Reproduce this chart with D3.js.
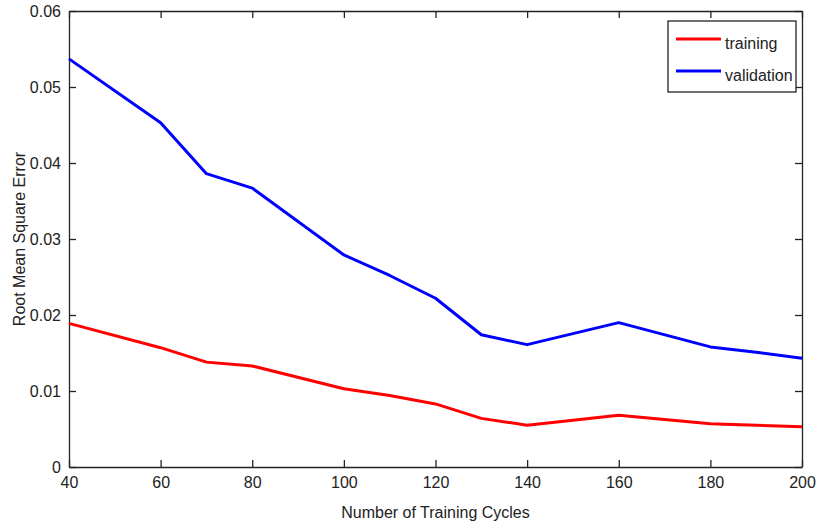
<!DOCTYPE html>
<html>
<head>
<meta charset="utf-8">
<script src="https://cdn.jsdelivr.net/npm/d3@7"></script>
<style>
  body { margin: 0; background: #fff; }
  text { font-family: "Liberation Sans Narrow", "Arial Narrow", "Liberation Sans", sans-serif; fill: #222; }
</style>
</head>
<body>
<div id="chart"></div>
<script>
var cycles = [40, 60, 70, 80, 100, 110, 120, 130, 140, 160, 180, 190, 200];
var training = [0.0189, 0.0157, 0.0138, 0.0133, 0.0103, 0.0094, 0.0083, 0.0064, 0.0055, 0.0068, 0.0057, 0.0055, 0.0053];
var validation = [0.0537, 0.0453, 0.0386, 0.0367, 0.0279, 0.0252, 0.0222, 0.0174, 0.0161, 0.0190, 0.0158, 0.0151, 0.0143];
var xTicks = [40, 60, 80, 100, 120, 140, 160, 180, 200];
var yTicks = [0, 0.01, 0.02, 0.03, 0.04, 0.05, 0.06];
var seriesNames = ["training", "validation"];
var seriesColors = ["#ff0000", "#0000ff"];

var width = 816, height = 527;
var margin = {left: 69, right: 14, top: 11, bottom: 60};

var svg = d3.select("#chart").append("svg")
  .attr("width", width).attr("height", height);

var x = d3.scaleLinear().domain([40, 200]).range([margin.left, width - margin.right]);
var y = d3.scaleLinear().domain([0, 0.06]).range([height - margin.bottom, margin.top]);

var fmtY = function(d) { return d === 0 ? "0" : d3.format(".2f")(d); };

// axes, ticks point inward like matlab
var xAxis = svg.append("g")
  .attr("transform", "translate(0," + y(0) + ")")
  .call(d3.axisBottom(x).tickValues(xTicks).tickSizeInner(-7).tickSizeOuter(0).tickPadding(14));
var xTop = svg.append("g")
  .attr("transform", "translate(0," + y(0.06) + ")")
  .call(d3.axisTop(x).tickValues(xTicks).tickSizeInner(-7).tickSizeOuter(0).tickFormat(""));
var yAxis = svg.append("g")
  .attr("transform", "translate(" + x(40) + ",0)")
  .call(d3.axisLeft(y).tickValues(yTicks).tickFormat(fmtY).tickSizeInner(-7).tickSizeOuter(0).tickPadding(8));
var yRight = svg.append("g")
  .attr("transform", "translate(" + x(200) + ",0)")
  .call(d3.axisRight(y).tickValues(yTicks).tickSizeInner(-7).tickSizeOuter(0).tickFormat(""));

[xAxis, xTop, yAxis, yRight].forEach(function(g) {
  g.selectAll("path, line").attr("stroke", "#222").attr("stroke-width", 1.3);
  g.selectAll("text").style("font-size", "16px").attr("fill", "#222");
});
xAxis.selectAll(".tick text").attr("dy", "0.45em");
yAxis.selectAll(".tick text").attr("dy", "0.35em");

var line = d3.line()
  .x(function(d, i) { return x(cycles[i]); })
  .y(function(d) { return y(d); });

[training, validation].forEach(function(s, k) {
  svg.append("path")
    .datum(s)
    .attr("fill", "none")
    .attr("stroke", seriesColors[k])
    .attr("stroke-width", 3)
    .attr("stroke-linejoin", "round")
    .attr("d", line);
});

// legend
var lg = svg.append("g").attr("transform", "translate(668,21)");
lg.append("rect")
  .attr("width", 128).attr("height", 71)
  .attr("fill", "#fff").attr("stroke", "#222").attr("stroke-width", 1.3);
seriesNames.forEach(function(name, k) {
  var ly = 18 + k * 32;
  lg.append("line")
    .attr("x1", 8).attr("x2", 53).attr("y1", ly).attr("y2", ly)
    .attr("stroke", seriesColors[k]).attr("stroke-width", 3);
  lg.append("text")
    .attr("x", 57).attr("y", ly + 4).attr("dy", "0.35em")
    .style("font-size", "16px")
    .text(name);
});

// axis titles
svg.append("text")
  .attr("x", (x(40) + x(200)) / 2).attr("y", 518)
  .attr("text-anchor", "middle")
  .style("font-size", "16px")
  .text("Number of Training Cycles");

svg.append("text")
  .attr("transform", "translate(25," + ((y(0) + y(0.06)) / 2) + ") rotate(-90)")
  .attr("text-anchor", "middle")
  .style("font-size", "16px")
  .text("Root Mean Square Error");
</script>
</body>
</html>
